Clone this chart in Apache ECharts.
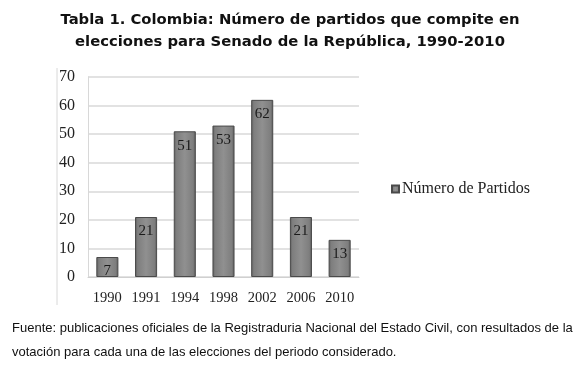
<!DOCTYPE html>
<html>
<head>
<meta charset="utf-8">
<script src="https://cdn.jsdelivr.net/npm/echarts@6/dist/echarts.min.js"></script>
<style>
html,body{margin:0;padding:0;background:#fff;}
#myChart{width:580px;height:371px;}
</style>
</head>
<body>
<div id="myChart"></div>
<script>
// datos
var years = ['1990', '1991', '1994', '1998', '2002', '2006', '2010'];
var partidos = [7, 21, 51, 53, 62, 21, 13];
var serieNombre = 'Número de Partidos';
var titulo = 'Tabla 1. Colombia: Número de partidos que compite en\nelecciones para Senado de la República, 1990-2010';
var fuente = 'Fuente: publicaciones oficiales de la Registraduria Nacional del Estado Civil, con resultados de la\nvotación para cada una de las elecciones del periodo considerado.';

var serif = '"Liberation Serif", "DejaVu Serif", serif';

var option = {
	animation: false,
	title: [{
		text: titulo,
		left: 'center',
		top: 9,
		padding: [0, 0, 0, 9],
		textStyle: {
			fontFamily: '"DejaVu Sans", sans-serif',
			fontWeight: 'bold',
			fontSize: 14.8,
			lineHeight: 22,
			color: '#111'
		}
	}, {
		text: fuente,
		left: 12,
		top: 316,
		padding: 0,
		textStyle: {
			fontFamily: '"Liberation Sans", sans-serif',
			fontWeight: 'normal',
			fontSize: 13,
			lineHeight: 24,
			color: '#111'
		}
	}],
	legend: {
		data: [serieNombre],
		left: 391,
		top: 181,
		padding: 0,
		icon: 'rect',
		itemWidth: 7,
		itemHeight: 7,
		textStyle: {
			fontFamily: serif,
			fontSize: 16,
			color: '#222',
			padding: [0, 0, 0, -2]
		}
	},
	grid: {
		left: 88,
		right: 221,
		top: 77,
		bottom: 94,
		containLabel: false
	},
	xAxis: {
		type: 'category',
		data: years,
		axisTick: { show: false },
		axisLine: { lineStyle: { color: '#d0d0d0' } },
		axisLabel: {
			fontFamily: serif,
			fontSize: 14.5,
			color: '#222',
			margin: 14
		}
	},
	yAxis: {
		type: 'value',
		min: 0,
		max: 70,
		interval: 10,
		axisLine: { show: true, lineStyle: { color: '#d8d8d8' } },
		axisTick: { show: false },
		splitLine: { lineStyle: { color: '#d8d8d8', width: 1.5 } },
		axisLabel: {
			fontFamily: serif,
			fontSize: 16,
			color: '#222',
			margin: 13
		}
	},
	graphic: [{
		type: 'line',
		shape: { x1: 57, y1: 68, x2: 57, y2: 305 },
		style: { stroke: '#d8d8d8', lineWidth: 1 }
	}],
	series: [{
		name: serieNombre,
		type: 'bar',
		data: partidos,
		barWidth: '57%',
		itemStyle: {
			color: {
				type: 'linear', x: 0, y: 0, x2: 1, y2: 0,
				colorStops: [
					{ offset: 0, color: '#5e5e5e' },
					{ offset: 0.12, color: '#7e7e7e' },
					{ offset: 0.5, color: '#909090' },
					{ offset: 0.88, color: '#7e7e7e' },
					{ offset: 1, color: '#585858' }
				]
			},
			borderColor: '#4a4a4a',
			borderWidth: 1
		},
		label: {
			show: true,
			position: 'insideTop',
			distance: 7,
			fontFamily: serif,
			fontSize: 15,
			color: '#1a1a1a'
		}
	}]
};
echarts.init(document.getElementById('myChart')).setOption(option);
</script>
</body>
</html>
